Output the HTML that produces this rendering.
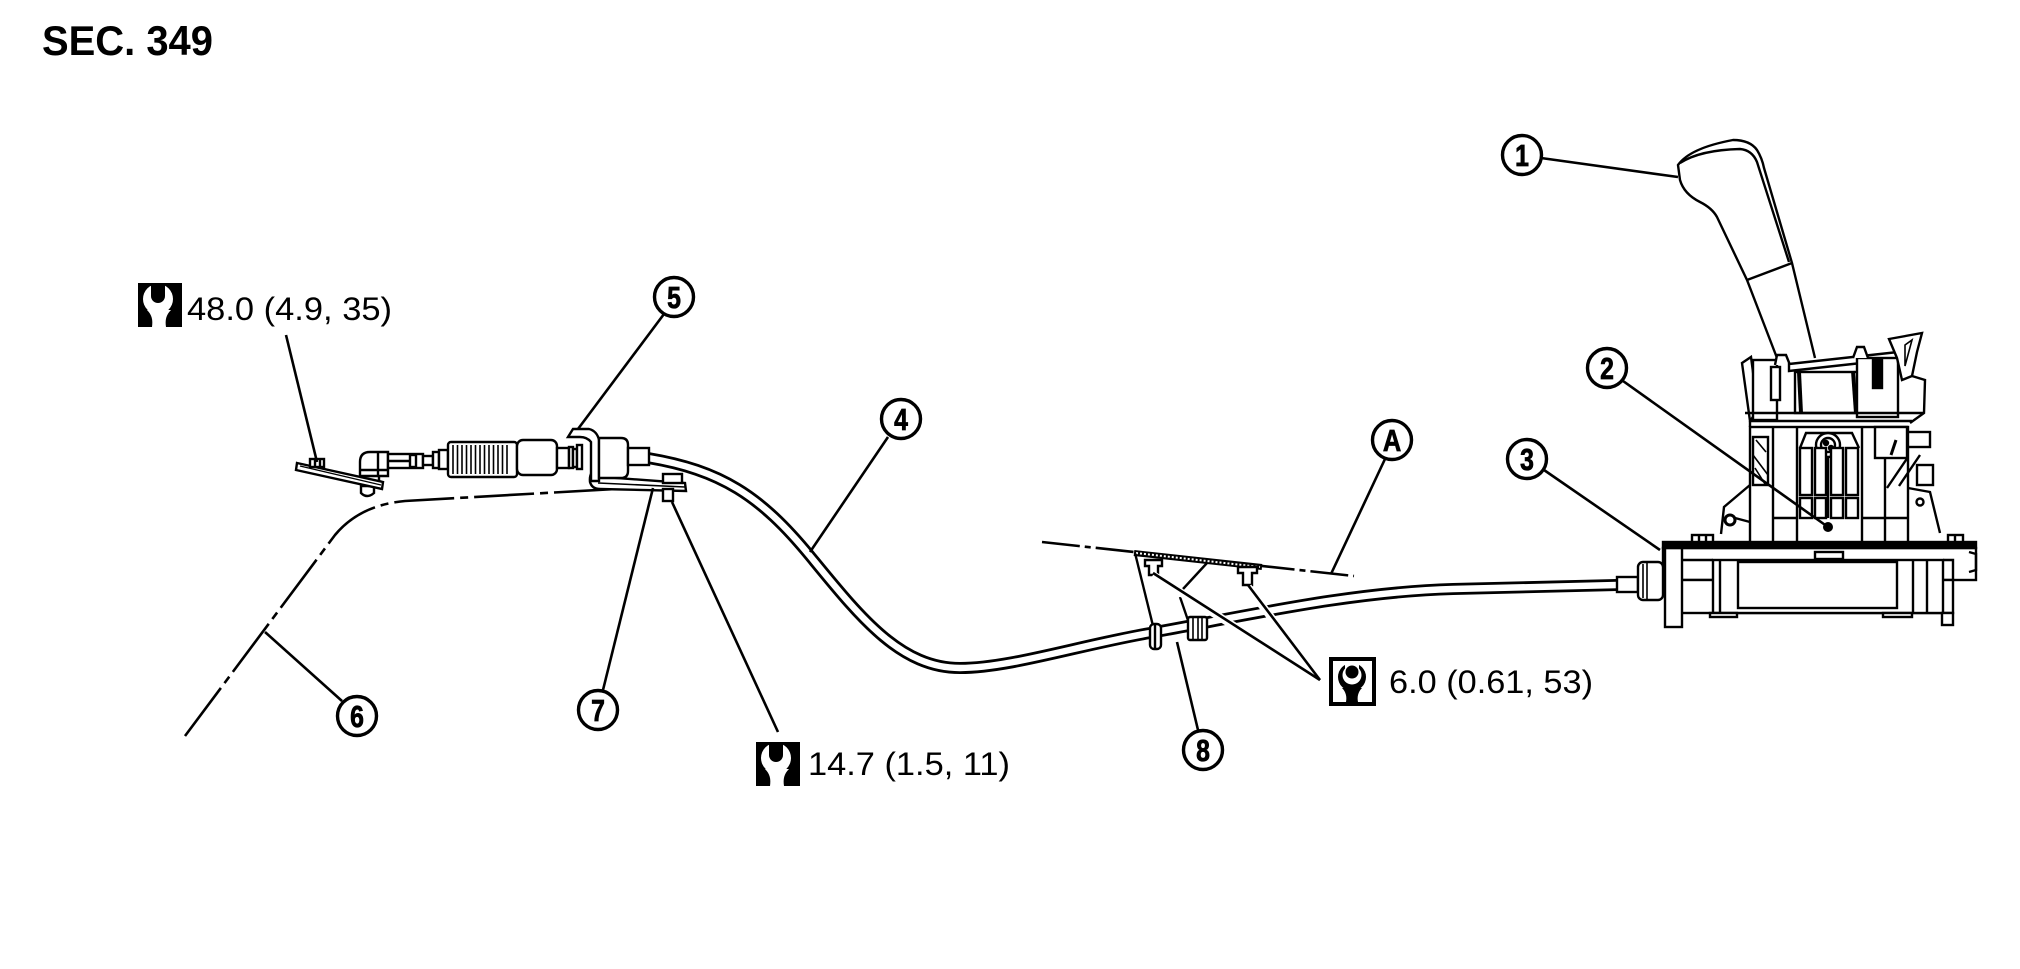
<!DOCTYPE html>
<html><head><meta charset="utf-8">
<style>
html,body{margin:0;padding:0;background:#fff;}
svg{display:block;}
text{font-family:"Liberation Sans",Arial,sans-serif;fill:#000;}
</style></head><body>
<svg width="2020" height="969" viewBox="0 0 2020 969" xmlns="http://www.w3.org/2000/svg">
<rect width="2020" height="969" fill="#fff"/>

<!-- Title -->
<text x="42" y="55" font-size="42" font-weight="bold" textLength="171" lengthAdjust="spacingAndGlyphs">SEC. 349</text>

<!-- ===== Phantom line 6 ===== -->
<path d="M185,736 L335,535 Q360,505 405,501 L650,487" fill="none" stroke="#000" stroke-width="2.6" stroke-dasharray="60 6 8 6"/>

<!-- ===== Phantom line A ===== -->
<path d="M1042,542 L1354,576" fill="none" stroke="#000" stroke-width="2.6" stroke-dasharray="38 5 6 5"/>

<!-- ===== Cable 4 ===== -->
<path d="M648,458 C720,470 760,495 810,556 S900,668 960,668 C1010,668 1080,645 1150,633 C1250,615 1350,592 1453,589 L1617,585" fill="none" stroke="#000" stroke-width="12"/>
<path d="M648,458 C720,470 760,495 810,556 S900,668 960,668 C1010,668 1080,645 1150,633 C1250,615 1350,592 1453,589 L1617,585" fill="none" stroke="#fff" stroke-width="6.4"/>

<!-- ===== Left assembly ===== -->
<g fill="#fff" stroke="#000" stroke-width="2.4">
  <rect x="362" y="468" width="17" height="14"/>
  <path d="M361,486 H374 V493 Q367,499 361,493 Z"/>
  <polygon points="297,463 383,482 382,489 296,470"/>
  <line x1="300" y1="466" x2="381" y2="485" stroke-width="1.2"/>
  <rect x="310" y="459" width="14" height="8"/>
  <line x1="315" y1="459" x2="315" y2="467"/>
  <line x1="320" y1="459" x2="320" y2="467"/>
  <path d="M360,476 V462 Q360,452 370,452 H388 V476 Z"/>
  <line x1="378" y1="452" x2="378" y2="476"/>
  <line x1="360" y1="470" x2="388" y2="470"/>
  <rect x="388" y="454" width="35" height="14"/>
  <line x1="388" y1="461" x2="410" y2="461"/>
  <rect x="410" y="455" width="6" height="12"/>
  <rect x="423" y="456" width="10" height="9"/>
  <rect x="433" y="452" width="6" height="16"/>
  <rect x="439" y="450" width="9" height="19"/>
  <rect x="448" y="442" width="69" height="35" rx="3"/>
  <path d="M453,445V474 M457.5,445V474 M462,445V474 M466.5,445V474 M471,445V474 M475.5,445V474 M480,445V474 M484.5,445V474 M489,445V474 M493.5,445V474 M498,445V474 M502.5,445V474 M507,445V474" stroke-width="1.6"/>
  <rect x="517" y="440" width="40" height="35" rx="6"/>
  <rect x="557" y="448" width="12" height="20"/>
  <rect x="569" y="447" width="4" height="21"/>
  <rect x="573" y="449" width="4" height="18"/>
  <rect x="577" y="445" width="5" height="24"/>
  <path d="M596,470 Q589,472 590,482 Q592,489 600,489 L686,491 L685,483 L603,477 Z"/>
  <line x1="598" y1="483" x2="685" y2="487" stroke-width="1.6"/>
  <path d="M568,437 L573,429 H589 Q597,431 599,440 V481 H591 V442 Q587,437 580,437 Z"/>
  <path d="M599,438 H621 Q628,438 628,445 V471 Q628,478 621,478 H599 Z"/>
  <rect x="628" y="448" width="21" height="17"/>
  <rect x="663" y="474" width="19" height="9"/>
  <rect x="663" y="489" width="10" height="12"/>
</g>

<!-- ===== Shifter ===== -->
<g fill="#fff" stroke="#000" stroke-width="2.4">
  <path d="M1777,358 L1747,280 L1717,217 Q1712,208 1700,202 Q1684,194 1680,180 L1678,165 Q1690,148 1733,140 Q1750,140 1757,150 Q1762,158 1764,168 L1792,263 L1815,358"/>
  <path d="M1680,163 Q1700,150 1740,149 Q1752,150 1757,162 L1789,262" fill="none"/>
  <line x1="1747" y1="280" x2="1792" y2="263"/>

  <path d="M1742,363 L1751,357 L1758,410 L1750,421 Z"/>
  <rect x="1753" y="360" width="24" height="60"/>
  <rect x="1771" y="367" width="9" height="33"/>
  <path d="M1775,365 L1777,355 L1786,355 L1790,365"/>
  <polygon points="1789,364 1898,352 1898,359 1789,371"/>
  <rect x="1795" y="372" width="65" height="41"/>
  <line x1="1799" y1="372" x2="1801" y2="413" stroke-width="4"/>
  <line x1="1853" y1="371" x2="1856" y2="413" stroke-width="4"/>
  <rect x="1857" y="358" width="41" height="59"/>
  <rect x="1873" y="360" width="9" height="28" fill="#000"/>
  <path d="M1853,358 L1857,347 L1864,347 L1868,358"/>
  <polygon points="1889,339 1922,333 1917,352 1912,376 1902,380 1897,358"/>
  <path d="M1905,345 L1912,340 L1905,366 Z" fill="none" stroke-width="1.6"/>
  <path d="M1912,376 L1925,380 L1924,413 L1910,423" fill="none"/>
  <line x1="1745" y1="413" x2="1924" y2="413"/>
  <line x1="1750" y1="421" x2="1912" y2="421"/>
  <line x1="1750" y1="421" x2="1750" y2="427"/>

  <rect x="1750" y="427" width="158" height="116"/>
  <path d="M1773,427V543 M1797,427V543 M1862,427V543 M1885,427V543" fill="none"/>
  <path d="M1800,448 L1806,433 H1852 L1859,448" fill="none"/>
  <circle cx="1828" cy="445" r="12"/>
  <circle cx="1828" cy="445" r="7"/>
  <circle cx="1826" cy="443" r="2" fill="#000"/>
  <circle cx="1831" cy="448" r="2" fill="#000"/>
  <line x1="1828" y1="457" x2="1828" y2="518"/>
  <rect x="1800" y="448" width="12" height="47"/>
  <rect x="1815" y="448" width="11" height="47"/>
  <rect x="1831" y="448" width="12" height="47"/>
  <rect x="1846" y="448" width="12" height="47"/>
  <rect x="1800" y="498" width="12" height="20"/>
  <rect x="1815" y="498" width="11" height="20"/>
  <rect x="1831" y="498" width="12" height="20"/>
  <rect x="1846" y="498" width="12" height="20"/>
  <path d="M1773,518H1797 M1862,518H1908" fill="none"/>
  <rect x="1753" y="437" width="15" height="48"/>
  <path d="M1753,455 L1768,475 M1755,468 L1765,484 M1756,440 L1766,452" fill="none" stroke-width="1.6"/>
  <rect x="1875" y="427" width="32" height="31"/>
  <line x1="1896" y1="440" x2="1891" y2="455" stroke-width="3"/>
  <rect x="1908" y="432" width="22" height="15"/>
  <rect x="1917" y="465" width="16" height="20"/>
  <path d="M1908,457 L1887,488 M1920,455 L1899,486" fill="none"/>
  <circle cx="1920" cy="502" r="3.5"/>
  <path d="M1908,488 L1930,492 L1940,533" fill="none"/>
  <path d="M1750,485 L1724,507 L1721,534" fill="none"/>
  <circle cx="1730" cy="520" r="5" stroke-width="3"/>
  <line x1="1735" y1="518" x2="1750" y2="522"/>

  <rect x="1692" y="535" width="21" height="8"/>
  <path d="M1699,535V543 M1706,535V543" fill="none"/>
  <rect x="1948" y="535" width="15" height="8"/>
  <path d="M1955,535V543" fill="none"/>
  <rect x="1663" y="548" width="313" height="32"/>
  <path d="M1969,552 L1976,554 V570 L1969,572" fill="none"/>
  <rect x="1680" y="580" width="273" height="33"/>
  <rect x="1713" y="560" width="230" height="53"/>
  <rect x="1738" y="562" width="159" height="46"/>
  <path d="M1720,560V613 M1913,560V613 M1927,560V613 M1680,560H1713 M1943,560H1953 V580" fill="none"/>
  <rect x="1665" y="548" width="17" height="79"/>
  <rect x="1942" y="613" width="11" height="12"/>
  <rect x="1710" y="613" width="27" height="4"/>
  <rect x="1883" y="613" width="29" height="4"/>
  <rect x="1815" y="552" width="28" height="7"/>
  <rect x="1663" y="542" width="313" height="6" fill="#000"/>

  <rect x="1617" y="577" width="21" height="15"/>
  <rect x="1638" y="562" width="25" height="38" rx="5"/>
  <path d="M1643,564V598 M1647,563V599" fill="none" stroke-width="1.6"/>
</g>

<!-- ===== Bracket 8 & A ===== -->
<g stroke="#000" fill="#fff" stroke-width="2.4">
  <line x1="1134" y1="553" x2="1262" y2="567" stroke-width="6"/>
  <line x1="1136" y1="553" x2="1260" y2="567" stroke="#fff" stroke-width="2" stroke-dasharray="2 2"/>
  <line x1="1135" y1="553" x2="1157" y2="642"/>
  <line x1="1207" y1="563" x2="1183" y2="589"/>
  <line x1="1180" y1="597" x2="1192" y2="632"/>
  <path d="M1145,560 H1162 V566 H1158 V575 H1149 V566 H1145 Z"/>
  <path d="M1238,567 H1257 V573 H1252 V585 H1243 V573 H1238 Z"/>
  <line x1="1153" y1="575" x2="1318" y2="679" stroke="#fff" stroke-width="8"/>
  <line x1="1248" y1="587" x2="1318" y2="679" stroke="#fff" stroke-width="8"/>
  <rect x="1150" y="624" width="11" height="25" rx="4"/>
  <line x1="1155" y1="624" x2="1155" y2="649"/>
  <rect x="1188" y="617" width="19" height="23" rx="2"/>
  <path d="M1193,617V640 M1198,617V640 M1202,617V640" fill="none" stroke-width="1.6"/>
  <line x1="1153" y1="573" x2="1320" y2="680" stroke-width="2.6"/>
  <line x1="1248" y1="585" x2="1320" y2="680" stroke-width="2.6"/>
</g>

<!-- ===== Leader lines ===== -->
<g stroke="#000" stroke-width="2.6" fill="none">
  <line x1="1541" y1="158" x2="1678" y2="177"/>
  <line x1="1623" y1="381" x2="1828" y2="527"/>
  <line x1="1544" y1="470" x2="1660" y2="550"/>
  <line x1="888" y1="437" x2="810" y2="552"/>
  <line x1="664" y1="314" x2="578" y2="429"/>
  <line x1="342" y1="701" x2="265" y2="632"/>
  <line x1="603" y1="690" x2="653" y2="488"/>
  <line x1="1198" y1="730" x2="1177" y2="642"/>
  <line x1="1385" y1="459" x2="1331" y2="574"/>
  <line x1="286" y1="335" x2="317" y2="462"/>
  <line x1="672" y1="502" x2="778" y2="732"/>
</g>
<circle cx="1828" cy="527" r="5" fill="#000"/>

<!-- ===== Callout circles ===== -->
<g fill="#fff" stroke="#000" stroke-width="3.4">
  <circle cx="1522" cy="155" r="19.5"/>
  <circle cx="1607" cy="368" r="19.5"/>
  <circle cx="1527" cy="459" r="19.5"/>
  <circle cx="901" cy="419" r="19.5"/>
  <circle cx="674" cy="297" r="19.5"/>
  <circle cx="357" cy="716" r="19.5"/>
  <circle cx="598" cy="710" r="19.5"/>
  <circle cx="1203" cy="750" r="19.5"/>
  <circle cx="1392" cy="440" r="19.5"/>
</g>
<g font-size="31" font-weight="bold" text-anchor="middle" stroke="#000" stroke-width="0.8">
  <text transform="translate(1522,166) scale(0.8,1)">1</text>
  <text transform="translate(1607,379) scale(0.8,1)">2</text>
  <text transform="translate(1527,470) scale(0.8,1)">3</text>
  <text transform="translate(901,430) scale(0.8,1)">4</text>
  <text transform="translate(674,308) scale(0.8,1)">5</text>
  <text transform="translate(357,727) scale(0.8,1)">6</text>
  <text transform="translate(598,721) scale(0.8,1)">7</text>
  <text transform="translate(1203,761) scale(0.8,1)">8</text>
  <text transform="translate(1392,451) scale(0.82,1)">A</text>
</g>

<!-- ===== Torque labels ===== -->
<g transform="translate(138,283)">
  <rect width="44" height="44" fill="#000"/>
  <circle cx="20" cy="16" r="15" fill="#fff"/>
  <path d="M13,0 V13 A7,7 0 0 0 27,13 V0 Z" fill="#000"/>
  <path d="M9,27 C14,32 15,37 14,44 L28,44 C27,37 28,32 33,27 Z" fill="#fff"/>
</g>
<text x="187" y="320" font-size="32" textLength="205" lengthAdjust="spacingAndGlyphs">48.0 (4.9, 35)</text>

<g transform="translate(756,742)">
  <rect width="44" height="44" fill="#000"/>
  <circle cx="20" cy="16" r="15" fill="#fff"/>
  <path d="M13,0 V13 A7,7 0 0 0 27,13 V0 Z" fill="#000"/>
  <path d="M9,27 C14,32 15,37 14,44 L28,44 C27,37 28,32 33,27 Z" fill="#fff"/>
</g>
<text x="808" y="775" font-size="32" textLength="202" lengthAdjust="spacingAndGlyphs">14.7 (1.5, 11)</text>

<g transform="translate(1329,657)">
  <rect x="2" y="2" width="43" height="45" fill="#fff" stroke="#000" stroke-width="4"/>
  <circle cx="23" cy="20" r="14" fill="#000"/>
  <circle cx="23" cy="18" r="9.5" fill="#fff"/>
  <rect x="16" y="4" width="14" height="12" fill="#fff"/>
  <circle cx="23" cy="15" r="6.5" fill="#000"/>
  <path d="M13,31 C17,35 18,40 17,45 L29,45 C28,40 29,35 33,31 Z" fill="#000"/>
</g>
<text x="1389" y="693" font-size="32" textLength="204" lengthAdjust="spacingAndGlyphs">6.0 (0.61, 53)</text>

</svg>
</body></html>
